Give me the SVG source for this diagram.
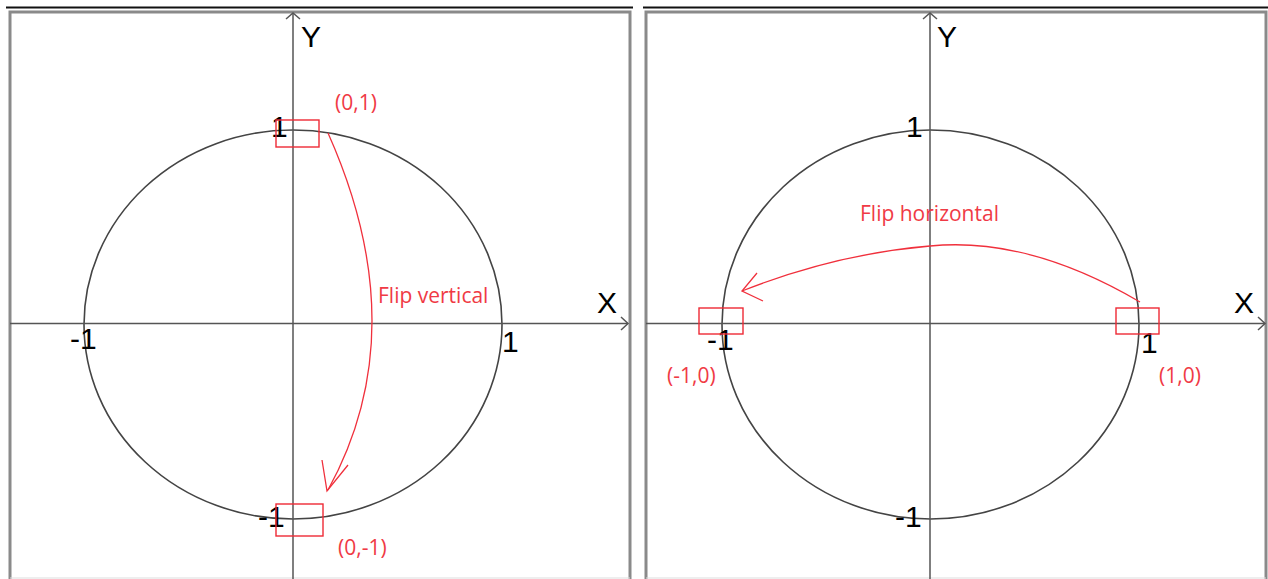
<svg xmlns="http://www.w3.org/2000/svg" width="1268" height="579" viewBox="0 0 1268 579">
<style>
.frame{fill:none;stroke:#8a8a8a;stroke-width:3}
.topline{stroke:#111;stroke-width:2}
.axis{stroke:#555;stroke-width:1.5;fill:none}
.circ{fill:none;stroke:#444;stroke-width:1.6}
.lbl{font-family:"Liberation Sans",Arial,sans-serif;font-size:30px;fill:#000}
.box{fill:none;stroke:#ee2a35;stroke-width:1.4}
.red{font-family:"Open Sans","Noto Sans",sans-serif;font-size:21px;fill:#f03a45}
.rc{fill:none;stroke:#f0303c;stroke-width:1.3}
</style>
<rect width="1268" height="579" fill="#fff"/>
<g id="panel-left">
<line class="topline" x1="6" y1="7.5" x2="633" y2="7.5"/>
<rect class="frame" x="10" y="12" width="620" height="570"/>
<line x1="10" y1="578" x2="630" y2="578" stroke="#ddd" stroke-width="1"/>
<ellipse class="circ" cx="293" cy="324.5" rx="209" ry="194.5"/>
<line class="axis" x1="293" y1="13" x2="293" y2="579"/>
<polyline class="axis" points="286,19 293,13 300,19"/>
<line class="axis" x1="10" y1="323.5" x2="628" y2="323.5"/>
<polyline class="axis" points="621,317 628,323.5 621,330"/>
<text class="lbl" x="301" y="47">Y</text>
<text class="lbl" x="597" y="313">X</text>
<text class="lbl" x="271" y="137">1</text>
<text class="lbl" x="70" y="349">-1</text>
<text class="lbl" x="502" y="352">1</text>
<text class="lbl" x="258" y="527">-1</text>
</g>
<g id="panel-right">
<line class="topline" x1="643" y1="7.5" x2="1268" y2="7.5"/>
<rect class="frame" x="646" y="12" width="620" height="570"/>
<line x1="646" y1="578" x2="1266" y2="578" stroke="#ddd" stroke-width="1"/>
<ellipse class="circ" cx="930.5" cy="324.5" rx="208.5" ry="194.5"/>
<line class="axis" x1="930" y1="13" x2="930" y2="579"/>
<polyline class="axis" points="923,19 930,13 937,19"/>
<line class="axis" x1="646" y1="323.5" x2="1265" y2="323.5"/>
<polyline class="axis" points="1258,317 1265,323.5 1258,330"/>
<text class="lbl" x="937" y="47">Y</text>
<text class="lbl" x="1234" y="313">X</text>
<text class="lbl" x="906" y="137">1</text>
<text class="lbl" x="707" y="350">-1</text>
<text class="lbl" x="1141" y="353">1</text>
<text class="lbl" x="895" y="527">-1</text>
</g>
<g id="node-box-0-1">
<rect class="box" x="276" y="120" width="43" height="27"/>
<text class="red" x="335" y="110">(0,1)</text>
</g>
<g id="node-box-0-m1">
<rect class="box" x="276" y="504" width="47" height="32"/>
<text class="red" x="338" y="555">(0,-1)</text>
</g>
<g id="node-box-m1-0">
<rect class="box" x="699" y="308" width="44" height="26"/>
<text class="red" x="667" y="383">(-1,0)</text>
</g>
<g id="node-box-1-0">
<rect class="box" x="1116" y="308" width="43" height="26"/>
<text class="red" x="1159" y="383">(1,0)</text>
</g>
<g id="connectors">
<path class="rc" d="M328,133 Q416,330 328,490"/>
<polyline class="rc" points="322,460 327,491 348,465"/>
<text class="red" x="378" y="303">Flip vertical</text>
<path class="rc" d="M1140,302 C1060,255 990,240 930,246 C860,252 800,268 742,291"/>
<polyline class="rc" points="757,273 742,291 763,301"/>
<text class="red" x="860" y="221">Flip horizontal</text>
</g>
</svg>
